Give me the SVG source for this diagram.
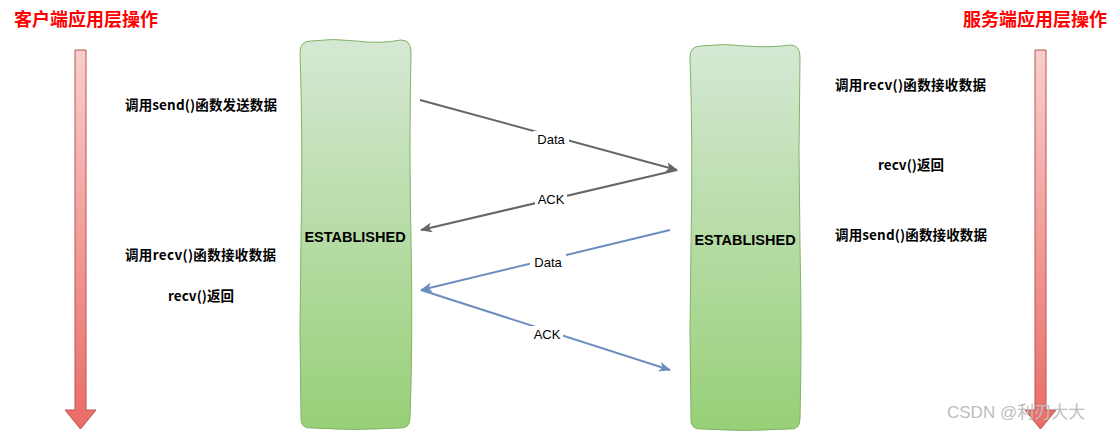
<svg xmlns="http://www.w3.org/2000/svg" width="1120" height="431" viewBox="0 0 1120 431">
<style>
.title{font-family:"Noto Sans CJK SC","Liberation Sans",sans-serif;font-size:18px;font-weight:bold;fill:#ff0000}
.lbl{font-family:"Noto Sans CJK SC","Liberation Sans",sans-serif;font-size:13.5px;font-weight:bold;fill:#000}
.est{font-family:"Liberation Sans","Noto Sans CJK SC",sans-serif;font-size:14.5px;font-weight:bold;fill:#000}
.clbl{font-family:"Liberation Sans",sans-serif;font-size:13px;fill:#000}
.box{fill:url(#gGreen);stroke:#82b366;stroke-width:1}
.rarrow{fill:url(#gRed);stroke:#b85450;stroke-width:1}
.gray{stroke:#666666;stroke-width:2;fill:none}
.blue{stroke:#6c8ebf;stroke-width:2;fill:none}
.wm{font-family:"Liberation Sans","Noto Sans CJK SC",sans-serif;font-size:17px;fill:#bdbdbd}
</style>
<defs>
<linearGradient id="gGreen" x1="0" y1="0" x2="0" y2="1">
<stop offset="0" stop-color="#d5e8d4"/>
<stop offset="1" stop-color="#97d077"/>
</linearGradient>
<linearGradient id="gRed" x1="0" y1="0" x2="0" y2="1">
<stop offset="0" stop-color="#f8cecc"/>
<stop offset="1" stop-color="#ea6b66"/>
</linearGradient>
<marker id="mGray" viewBox="0 0 12 10" refX="11" refY="5" markerWidth="12" markerHeight="10" markerUnits="userSpaceOnUse" orient="auto">
<path d="M0,0 L12,5 L0,10 L3,5 Z" fill="#666666"/>
</marker>
<marker id="mBlue" viewBox="0 0 12 10" refX="11" refY="5" markerWidth="12" markerHeight="10" markerUnits="userSpaceOnUse" orient="auto">
<path d="M0,0 L12,5 L0,10 L3,5 Z" fill="#6c8ebf"/>
</marker>
</defs>
<rect width="1120" height="431" fill="#ffffff"/>

<g id="client-title"><text class="title" x="14" y="26">客户端应用层操作</text></g>
<g id="server-title"><text class="title" x="963" y="26">服务端应用层操作</text></g>

<g id="client-timeline">
<path class="rarrow" d="M75,50 L86,50 L86,410 L96,410 L80.5,429 L65,410 L75,410 Z"/>
</g>
<g id="server-timeline">
<path class="rarrow" d="M1035,50 L1046,50 L1046,410 L1056,410 L1040.5,429 L1025,410 L1035,410 Z"/>
</g>

<g id="client-box">
<path class="box" d="M311,41 Q333,38 356,41 Q380,44 401,40 Q411,40 411,52 Q409,150 411,240 Q413,340 410,418 Q410,429 399,428 Q355,431 312,428 Q300,429 301,417 Q299,330 301,240 Q303,140 300,52 Q300,41 311,41 Z"/>
<text class="est" x="355" y="242" text-anchor="middle">ESTABLISHED</text>
</g>
<g id="server-box">
<path class="box" d="M701,46 Q723,43 746,46 Q770,48 790,45 Q800,45 800,57 Q798,150 800,245 Q802,340 800,419 Q800,430 789,429 Q745,432 702,429 Q690,430 691,418 Q689,330 691,245 Q693,145 690,57 Q690,46 701,46 Z"/>
<text class="est" x="745" y="245" text-anchor="middle">ESTABLISHED</text>
</g>

<g id="client-notes">
<text class="lbl" x="125" y="110" textLength="152">调用send()函数发送数据</text>
<text class="lbl" x="125" y="260" textLength="151">调用recv()函数接收数据</text>
<text class="lbl" x="168" y="301" textLength="66">recv()返回</text>
</g>
<g id="server-notes">
<text class="lbl" x="835" y="90" textLength="151">调用recv()函数接收数据</text>
<text class="lbl" x="878" y="170" textLength="66">recv()返回</text>
<text class="lbl" x="835" y="240" textLength="152">调用send()函数接收数据</text>
</g>

<g id="connectors">
<line class="gray" x1="420" y1="100" x2="677" y2="170" marker-end="url(#mGray)"/>
<line class="gray" x1="677" y1="170" x2="421" y2="230" marker-end="url(#mGray)"/>
<line class="blue" x1="670" y1="230" x2="421" y2="290" marker-end="url(#mBlue)"/>
<line class="blue" x1="421" y1="290" x2="670" y2="370" marker-end="url(#mBlue)"/>
<rect x="533" y="131" width="36" height="16" fill="#fff"/>
<text class="clbl" x="551" y="144" text-anchor="middle">Data</text>
<rect x="535" y="191" width="32" height="16" fill="#fff"/>
<text class="clbl" x="551" y="204" text-anchor="middle">ACK</text>
<rect x="530" y="254" width="36" height="16" fill="#fff"/>
<text class="clbl" x="548" y="267" text-anchor="middle">Data</text>
<rect x="531" y="326" width="32" height="16" fill="#fff"/>
<text class="clbl" x="547" y="339" text-anchor="middle">ACK</text>
</g>

<g id="watermark"><text class="wm" x="947" y="418">CSDN @利刃大大</text></g>
</svg>
